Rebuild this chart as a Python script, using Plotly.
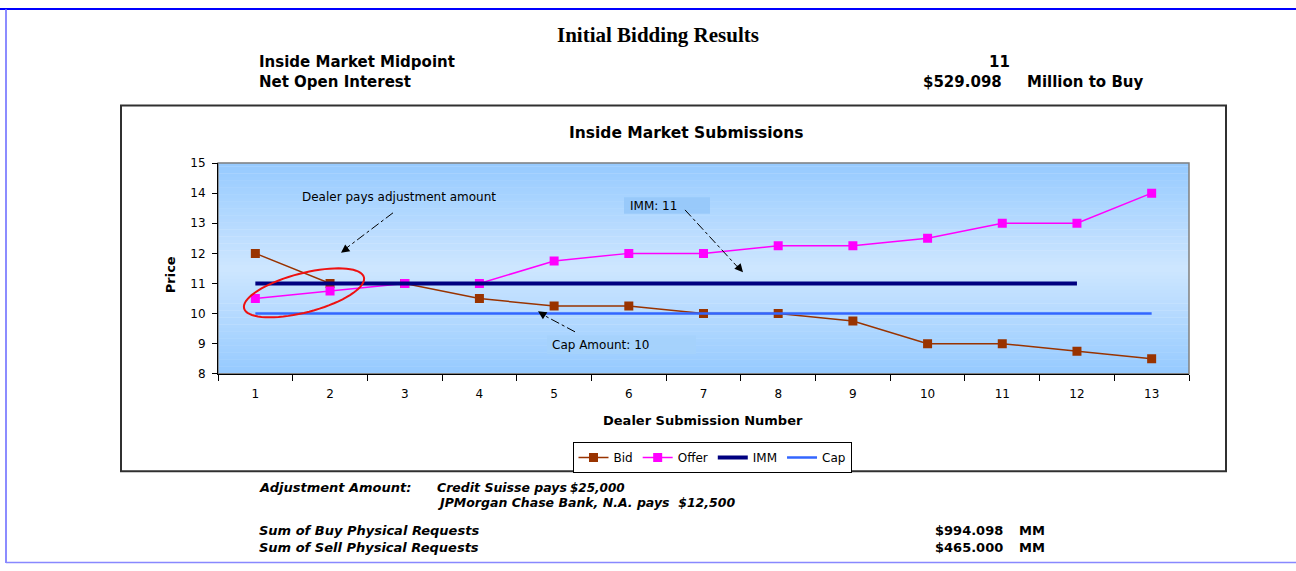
import numpy as np
import plotly.graph_objects as go

W, H = 1296, 571

# ---- data ----
submissions = [str(i) for i in range(1, 14)]
bid = [12, 11, 11, 10.5, 10.25, 10.25, 10, 10, 9.75, 9, 9, 8.75, 8.5]
offer = [10.5, 10.75, 11, 11, 11.75, 12, 12, 12.25, 12.25, 12.5, 13, 13, 14]
imm_x = submissions[:12]
imm = [11] * 12
cap = [10] * 13
y_ticks = [8, 9, 10, 11, 12, 13, 14, 15]

# ---- layout helpers (pixel -> paper) ----
def px(x):
    return x / W

def py(y):
    return 1 - y / H

PL, PR, PT, PB = 218, 1189, 160, 376  # plot area pixels

FONT = "DejaVu Sans, Arial, sans-serif"
SERIF = "Liberation Serif, Times New Roman, serif"

fig = go.Figure()
fig.add_trace(go.Scatter(x=submissions, y=bid, name="Bid", mode="lines+markers",
                         line=dict(color="#993300", width=1.5),
                         marker=dict(symbol="square", size=9, color="#993300")))
fig.add_trace(go.Scatter(x=submissions, y=offer, name="Offer", mode="lines+markers",
                         line=dict(color="#FF00FF", width=1.5),
                         marker=dict(symbol="square", size=9, color="#FF00FF")))
fig.add_trace(go.Scatter(x=imm_x, y=imm, name="IMM", mode="lines",
                         line=dict(color="#000080", width=4)))
fig.add_trace(go.Scatter(x=submissions, y=cap, name="Cap", mode="lines",
                         line=dict(color="#3366FF", width=2.5)))

shapes = []
# gradient background of plot area
n = 60
edge = np.array([150, 202, 255])
center = np.array([206, 231, 255])
for i in range(n):
    t = (i + 0.5) / n
    f = 1 - abs(t - 0.5) * 2
    c = edge + (center - edge) * f
    shapes.append(dict(type="rect", xref="x domain", yref="y domain",
                       x0=0, x1=1, y0=i / n, y1=(i + 1) / n + 0.002,
                       fillcolor=f"rgb({int(c[0])},{int(c[1])},{int(c[2])})",
                       line=dict(width=0), layer="below"))
# plot area border
shapes.append(dict(type="rect", xref="x domain", yref="y domain", x0=0, x1=1, y0=0, y1=1,
                   line=dict(color="#808080", width=1.5), layer="below"))
# chart box
shapes.append(dict(type="rect", xref="paper", yref="paper", x0=px(121), x1=px(1226),
                   y0=py(476), y1=py(101), line=dict(color="#303030", width=2)))
# page border lines
shapes.append(dict(type="line", xref="paper", yref="paper", x0=0, x1=1, y0=py(2), y1=py(2),
                   line=dict(color="#0000FF", width=2)))
shapes.append(dict(type="line", xref="paper", yref="paper", x0=px(6), x1=px(6), y0=py(2), y1=py(570),
                   line=dict(color="#6666FF", width=1.5)))
shapes.append(dict(type="line", xref="paper", yref="paper", x0=px(6), x1=1, y0=py(569.5), y1=py(569.5),
                   line=dict(color="#8888FF", width=1.5)))
# label boxes
shapes.append(dict(type="rect", xref="paper", yref="paper", x0=px(624), x1=px(710), y0=py(212), y1=py(195),
                   fillcolor="rgba(150,200,250,0.9)", line=dict(width=0)))
shapes.append(dict(type="rect", xref="paper", yref="paper", x0=px(547), x1=px(696), y0=py(356), y1=py(337),
                   fillcolor="rgba(165,210,252,0.9)", line=dict(width=0)))
# dash-dot arrow shafts
for (x0, y0, x1, y1) in [(393, 211, 344, 249), (685, 208, 738, 267), (575, 333, 542, 315)]:
    shapes.append(dict(type="line", xref="paper", yref="paper", x0=px(x0), y0=py(y0), x1=px(x1), y1=py(y1),
                       line=dict(color="black", width=1, dash="dashdot")))
# red ellipse (rotated)
cx, cy, a, b, th = 304, 293, 62, 20, np.deg2rad(15)
ts = np.linspace(0, 2 * np.pi, 73)
ex = cx + a * np.cos(ts) * np.cos(th) + b * np.sin(ts) * np.sin(th)
ey = cy - a * np.cos(ts) * np.sin(th) + b * np.sin(ts) * np.cos(th)
path = "M " + " L ".join(f"{px(x):.5f},{py(y):.5f}" for x, y in zip(ex, ey)) + " Z"
shapes.append(dict(type="path", xref="paper", yref="paper", path=path,
                   line=dict(color="#EE1111", width=2)))

ann = []

def text(x, y, s, size=12, bold=True, italic=False, anchor="left", family=FONT, color="black"):
    t = s
    if bold:
        t = f"<b>{t}</b>"
    if italic:
        t = f"<i>{t}</i>"
    ann.append(dict(x=px(x), y=py(y), xref="paper", yref="paper", text=t, showarrow=False,
                    xanchor=anchor, yanchor="middle", font=dict(size=size, family=family, color=color)))

text(658, 29, "Initial Bidding Results", size=21, family=SERIF, anchor="center")
text(257, 56, "Inside Market Midpoint", size=15)
text(999, 56, "11", size=15, anchor="center")
text(257, 77, "Net Open Interest", size=15)
text(1004, 77, "$529.098", size=15, anchor="right")
text(1025, 77, "Million to Buy", size=15)
text(686, 129, "Inside Market Submissions", size=15.5, anchor="center")
text(703, 424, "Dealer Submission Number", size=13, anchor="center")
ann.append(dict(x=px(170), y=py(275), xref="paper", yref="paper", text="<b>Price</b>", showarrow=False,
                textangle=-90, xanchor="center", yanchor="middle", font=dict(size=13, family=FONT)))
text(300, 195, "Dealer pays adjustment amount", size=12, bold=False)
text(628, 204, "IMM: 11", size=12, bold=False)
text(550, 346, "Cap Amount: 10", size=12, bold=False)

text(257, 493, "Adjustment Amount:", size=13, italic=True)
text(435, 493, "Credit Suisse pays", size=12.5, italic=True)
text(568, 493, "$25,000", size=12, italic=True)
text(435, 508, "JPMorgan Chase Bank, N.A. pays  $12,500", size=12.5, italic=True)
text(257, 537, "Sum of Buy Physical Requests", size=13, italic=True)
text(257, 554, "Sum of Sell Physical Requests", size=13, italic=True)
text(1005, 537, "$994.098", size=13, anchor="right")
text(1017, 537, "MM", size=13)
text(1005, 554, "$465.000", size=13, anchor="right")
text(1017, 554, "MM", size=13)

# arrowheads
for (xt, yt, xs, ys) in [(341, 252, 349, 246), (743, 272, 736, 264), (538, 312, 546, 317)]:
    ann.append(dict(x=px(xt), y=py(yt), xref="paper", yref="paper", ax=xs - xt, ay=ys - yt,
                    text="", showarrow=True, arrowhead=2, arrowsize=1.4, arrowwidth=1.2,
                    arrowcolor="black"))

fig.update_layout(
    width=W, height=H,
    margin=dict(l=0, r=0, t=0, b=0),
    paper_bgcolor="white", plot_bgcolor="rgba(0,0,0,0)",
    font=dict(family=FONT, size=12, color="black"),
    shapes=shapes, annotations=ann,
    showlegend=True,
    legend=dict(orientation="h", x=px(712), y=py(446), xanchor="center", yanchor="top",
                bordercolor="black", borderwidth=1, bgcolor="white",
                font=dict(size=12, family=FONT), itemwidth=30, tracegroupgap=0),
    xaxis=dict(domain=[px(PL), px(PR)], type="category", range=[-0.5, 12.5],
               tickson="boundaries", ticks="outside", ticklen=6, tickcolor="black",
               ticklabelstandoff=9,
               showline=True, linecolor="black", linewidth=1, showgrid=False, zeroline=False,
               tickfont=dict(size=12), fixedrange=True),
    yaxis=dict(domain=[py(PB), py(PT)], range=[8, 15], tickvals=y_ticks,
               ticks="outside", ticklen=5, tickcolor="black", ticklabelstandoff=4,
               showline=True, linecolor="black", linewidth=1, showgrid=False, zeroline=False,
               tickfont=dict(size=12), fixedrange=True),
)

post = (
    "document.documentElement.style.margin='0';"
    "document.documentElement.style.overflow='hidden';"
    "document.body.style.margin='0';"
    "document.body.style.overflow='hidden';"
)
fig.write_html("out.html", config={"displayModeBar": False}, post_script=post)
